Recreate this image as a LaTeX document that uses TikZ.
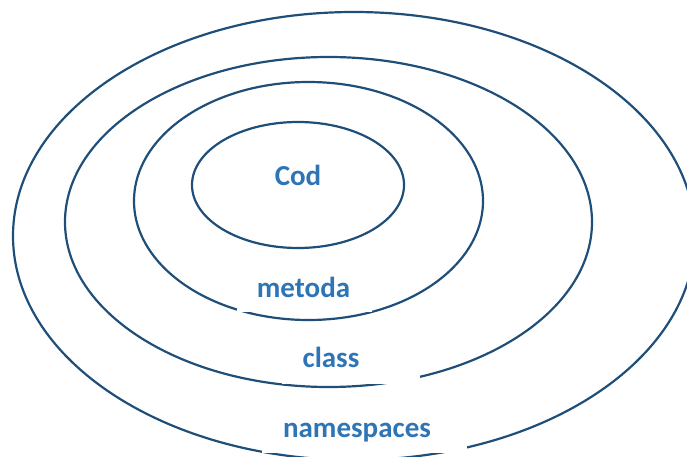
\documentclass[tikz,border=0pt]{standalone}
\usepackage{fontspec}
\setmainfont{Carlito}
\definecolor{ringblue}{RGB}{31,78,121}
\definecolor{textblue}{RGB}{46,117,182}

\begin{document}
\begin{tikzpicture}
        [x=1pt,y=-1pt,every path/.style={line width=2.2pt}, ring/.style={draw=ringblue}, blank/.style={fill=white}, every node/.style={text=textblue,font=\fontsize{29}{34}\selectfont\bfseries,anchor=base,inner sep=0}]

        \useasboundingbox (0,0) rectangle (687,457);

        \draw[ring] (354,236) ellipse [x radius=341pt, y radius=224pt];
        \draw[ring] (328.5,222) ellipse [x radius=263.5pt, y radius=165pt];
        \draw[ring] (308.5,201) ellipse [x radius=174.5pt, y radius=119pt];
        \draw[ring] (298,185) ellipse [x radius=106pt, y radius=63pt];

        \fill[blank] (237,270) rectangle (372,312);
        \fill[blank] (282,332) rectangle (420,384);
        \fill[blank] (262,405) rectangle (467,453);

        \node (cod) at (298,185) {Cod};
        \node (metoda) at (303.5,297) {metoda};
        \node (class) at (331,367) {class};
        \node (namespaces) at (357,437) {namespaces};

      \end{tikzpicture}
\end{document}
